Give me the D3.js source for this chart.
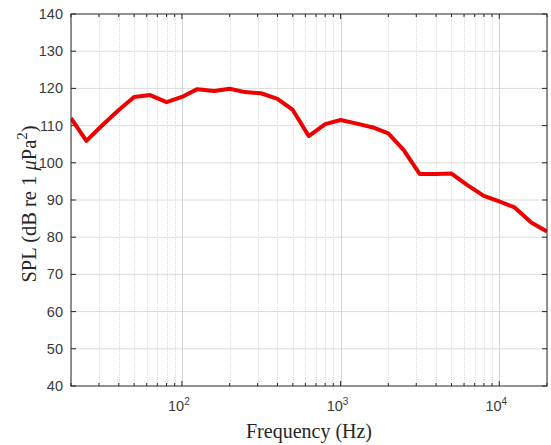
<!DOCTYPE html>
<html><head><meta charset="utf-8">
<script src="https://cdn.jsdelivr.net/npm/d3@7"></script>
<style>body{margin:0;background:#fff}svg{display:block}</style>
</head><body>
<script>
const freqs = [20,25,31.5,40,50,63,80,100,125,160,200,250,315,400,500,630,800,1000,1250,1600,2000,2500,3150,4000,5000,6300,8000,10000,12500,16000,20000];
const spl = [112.0,105.9,110.1,114.2,117.7,118.2,116.3,117.7,119.8,119.3,119.9,119.0,118.7,117.2,114.2,107.2,110.4,111.5,110.6,109.5,107.9,103.4,97.0,97.0,97.1,94.0,91.1,89.6,88.0,83.9,81.5];
const yTicks = [40,50,60,70,80,90,100,110,120,130,140];
const xMajor = [100,1000,10000];
const xMajorLabels = ["2","3","4"];

const W=551,H=445;
const m={l:71,r:4,t:14,b:59};
const svg=d3.select("body").append("svg").attr("width",W).attr("height",H);
const x=d3.scaleLog().domain([20,20000]).range([m.l,W-m.r]);
const y=d3.scaleLinear().domain([40,140]).range([H-m.b,m.t]);
const x0=m.l,x1=W-m.r,y0=H-m.b,y1=m.t;

const minor=[];
for(let d=10;d<=10000;d*=10){for(let k=2;k<=9;k++){const f=d*k;if(f>=20&&f<=20000)minor.push(f);}}

const g=svg.append("g");
g.selectAll(".ygrid").data(yTicks.slice(1,-1)).join("line")
 .attr("x1",x0).attr("x2",x1).attr("y1",d=>y(d)).attr("y2",d=>y(d))
 .attr("stroke","#dcdcdc").attr("stroke-width",1);
g.selectAll(".xminor").data(minor).join("line")
 .attr("x1",d=>Math.round(x(d))+0.5).attr("x2",d=>Math.round(x(d))+0.5).attr("y1",y0).attr("y2",y1)
 .attr("stroke","#dadada").attr("stroke-width",1).attr("stroke-dasharray","1,1");
g.selectAll(".xmajor").data(xMajor).join("line")
 .attr("x1",d=>Math.round(x(d))+0.5).attr("x2",d=>Math.round(x(d))+0.5).attr("y1",y0).attr("y2",y1)
 .attr("stroke","#d6d6d6").attr("stroke-width",1);

const tc="#262626";
yTicks.forEach(v=>{
  g.append("line").attr("x1",x0).attr("x2",x0+5).attr("y1",y(v)).attr("y2",y(v)).attr("stroke",tc);
  g.append("line").attr("x1",x1).attr("x2",x1-5).attr("y1",y(v)).attr("y2",y(v)).attr("stroke",tc);
});
xMajor.forEach(v=>{
  g.append("line").attr("x1",x(v)).attr("x2",x(v)).attr("y1",y0).attr("y2",y0-5).attr("stroke",tc);
  g.append("line").attr("x1",x(v)).attr("x2",x(v)).attr("y1",y1).attr("y2",y1+5).attr("stroke",tc);
});
minor.forEach(v=>{
  g.append("line").attr("x1",x(v)).attr("x2",x(v)).attr("y1",y0).attr("y2",y0-3).attr("stroke",tc);
  g.append("line").attr("x1",x(v)).attr("x2",x(v)).attr("y1",y1).attr("y2",y1+3).attr("stroke",tc);
});

const line=d3.line().x((d,i)=>x(freqs[i])).y(d=>y(d));
svg.append("defs").append("clipPath").attr("id","clip").append("rect")
 .attr("x",x0).attr("y",y1).attr("width",x1-x0).attr("height",y0-y1);
svg.append("path").datum(spl).attr("d",line).attr("fill","none")
 .attr("stroke","#ee0000").attr("stroke-width",4).attr("stroke-linejoin","round")
 .attr("clip-path","url(#clip)");

svg.append("rect").attr("x",x0).attr("y",y1).attr("width",x1-x0).attr("height",y0-y1)
 .attr("fill","none").attr("stroke",tc).attr("stroke-width",1);

svg.selectAll(".yl").data(yTicks).join("text")
 .attr("x",x0-8).attr("y",d=>y(d)).attr("dy","0.35em").attr("text-anchor","end")
 .attr("font-family","Liberation Sans, Arial, sans-serif").attr("font-size",14.5).attr("fill","#3a3a3a")
 .text(d=>d);

xMajor.forEach((v,i)=>{
  const t=svg.append("text").attr("x",x(v)-3).attr("y",y0+25).attr("text-anchor","middle")
   .attr("font-family","Liberation Sans, Arial, sans-serif").attr("font-size",14.5).attr("fill","#3a3a3a");
  t.append("tspan").text("10");
  t.append("tspan").attr("dy",-6).attr("font-size",10).text(xMajorLabels[i]);
});

svg.append("text").attr("x",(x0+x1)/2).attr("y",438).attr("text-anchor","middle")
 .attr("font-family","Liberation Serif, Times New Roman, serif").attr("font-size",20).attr("fill","#262626")
 .text("Frequency (Hz)");
const yl=svg.append("text").attr("transform",`translate(36,${(y0+y1)/2+4}) rotate(-90)`).attr("text-anchor","middle")
 .attr("font-family","Liberation Serif, Times New Roman, serif").attr("font-size",20.5).attr("fill","#262626");
yl.append("tspan").text("SPL (dB re 1 ");
yl.append("tspan").attr("font-style","italic").text("μ");
yl.append("tspan").text("Pa");
yl.append("tspan").attr("dy",-9).attr("font-size",15).text("2");
yl.append("tspan").attr("dy",9).text(")");
</script>
</body></html>
